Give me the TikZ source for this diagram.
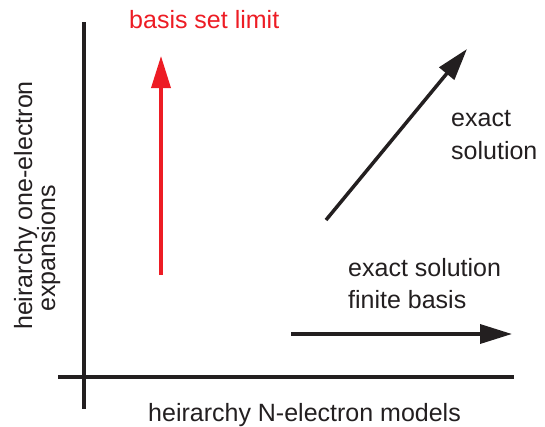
\documentclass[tikz,border=0pt]{standalone}
\usepackage{fontspec}
\setmainfont{Liberation Sans}
\usetikzlibrary{arrows.meta}
\definecolor{ink}{RGB}{35,31,32}
\definecolor{redline}{RGB}{237,28,36}
\begin{document}
\begin{tikzpicture}[x=1pt,y=-1pt,
  lbl/.style={inner sep=0pt, anchor=base west, font=\fontsize{25}{30}\selectfont, text=ink},
  axisline/.style={line width=3.5pt, draw=ink},
  arr/.style={line width=3.5pt, -{Triangle[length=32pt,width=19pt]}},
]
\useasboundingbox (0,0) rectangle (545,426);
% axes
\coordinate (vtop) at (84,22);
\coordinate (vbot) at (84,409);
\coordinate (hleft) at (58,377);
\coordinate (hright) at (514,377);
\draw[axisline] (vtop) -- (vbot);
\draw[axisline] (hleft) -- (hright);
% arrows
\coordinate (rs) at (161,275);
\coordinate (re) at (161,56);
\draw[arr, draw=redline, fill=redline] (rs) -- (re);
\coordinate (ds) at (326,220);
\coordinate (de) at (467,49);
\draw[arr, draw=ink, fill=ink] (ds) -- (de);
\coordinate (hs) at (291,334);
\coordinate (he) at (512,334);
\draw[arr, draw=ink, fill=ink] (hs) -- (he);
% labels
\node[lbl, text=redline] (bsl) at (129,28) {basis set limit};
\node[lbl] (ex1) at (451,126) {exact};
\node[lbl] (ex2) at (451,159) {solution};
\node[lbl] (fb1) at (348,276) {exact solution};
\node[lbl] (fb2) at (348,308) {finite basis};
\node[lbl] (xl) at (148,421) {heirarchy N-electron models};
\node[lbl, rotate=90] (yl1) at (32,330) {heirarchy one-electron};
\node[lbl, rotate=90] (yl2) at (55,312) {expansions};
\end{tikzpicture}
\end{document}
